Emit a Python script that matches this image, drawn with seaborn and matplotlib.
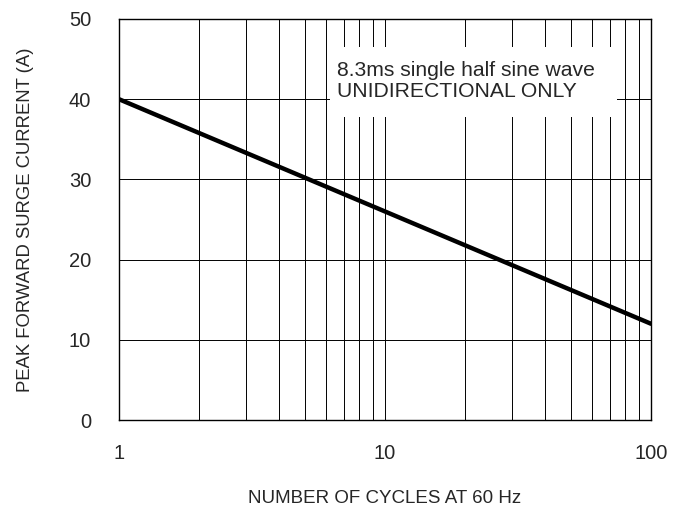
import matplotlib
matplotlib.use("Agg")
import matplotlib.pyplot as plt
import seaborn as sns
import pandas as pd
from matplotlib.ticker import FixedLocator, NullFormatter
from matplotlib.patches import Rectangle

cycles = [1, 10, 100]
current = [40, 26, 12]
x_ticks = [1, 10, 100]
x_tick_labels = ["1", "10", "100"]
y_ticks = [0, 10, 20, 30, 40, 50]
note_lines = ["8.3ms single half sine wave", "UNIDIRECTIONAL ONLY"]

sns.set_style("white")
plt.rcParams["font.family"] = ["Liberation Sans", "DejaVu Sans"]

fig = plt.figure(figsize=(6.82, 5.09), dpi=100)
ax = fig.add_axes([119/682, 1-420/509, (651-119)/682, (420-19)/509])

df = pd.DataFrame({"cycles": cycles, "current": current})
ax.set_xscale("log")
sns.lineplot(data=df, x="cycles", y="current", ax=ax, color="black", linewidth=3.2, zorder=5)

ax.set_xlim(1, 100)
ax.set_ylim(0, 50)
ax.xaxis.set_major_locator(FixedLocator(x_ticks))
ax.set_xticklabels(x_tick_labels)
minor = [m * d for d in (1, 10) for m in range(2, 10)]
ax.xaxis.set_minor_locator(FixedLocator(minor))
ax.xaxis.set_minor_formatter(NullFormatter())
ax.set_yticks(y_ticks)
ax.grid(True, which="both", color="black", linewidth=0.7)
ax.tick_params(axis="both", which="both", length=0)
ax.tick_params(axis="y", labelsize=14.5, pad=20)
ax.tick_params(axis="x", labelsize=14.5, pad=17)
for s in ax.spines.values():
    s.set_color("black")
    s.set_linewidth(1.0)

ax.set_xlabel("NUMBER OF CYCLES AT 60 Hz", fontsize=13.5, labelpad=20)
ax.set_ylabel("PEAK FORWARD SURGE CURRENT (A)", fontsize=13.3, labelpad=25)

ax.add_patch(Rectangle((0.3966, 0.7556), 0.5394, 0.1744, transform=ax.transAxes,
                       facecolor="white", edgecolor="none", zorder=4))
ax.text(0.4098, 0.845, "\n".join(note_lines), transform=ax.transAxes,
        fontsize=15.2, ha="left", va="center", linespacing=1.12, zorder=6)

fig.savefig("out.png", dpi=100)
